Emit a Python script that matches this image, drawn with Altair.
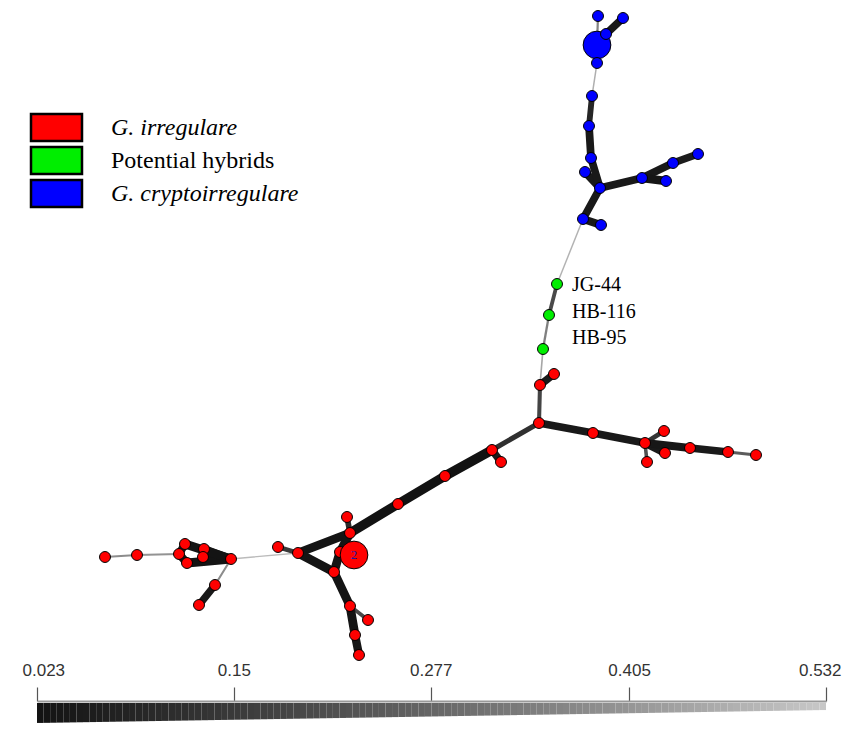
import altair as alt
import pandas as pd
import numpy as np

# ---------------- network layout (node positions) -------------
node_id = ["b0", "b1", "b2", "b3", "b4", "b5", "b6", "b7", "b8", "b9", "b10", "b11", "b12", "b13", "b14", "b15",
           "g0", "g1", "g2",
           "r0", "r1", "r2", "r3", "r4", "r5", "r6", "r7", "r8", "r9", "r10", "r11", "r12", "r13", "r14",
           "r15", "r16", "r17", "r18", "r19", "r20", "r21", "r22", "r23", "r24", "r25", "r26", "r27", "r28",
           "r29", "r30", "r31", "r32", "r33", "r34", "r35"]
node_x = [597, 598, 606, 623, 597, 592, 589, 591, 585, 600, 642, 666, 673, 698, 583, 601,
          557, 549, 543,
          540, 554, 539, 593, 645, 664, 665, 647, 690, 728, 756, 492, 501, 445, 398,
          347, 350, 340, 354, 298, 278, 334, 350, 368, 355, 359, 231, 215, 199,
          185, 204, 179, 203, 187, 137, 105]
node_y = [43, 14, 32, 16, 61, 94, 124, 156, 170, 186, 176, 179, 161, 152, 217, 223,
          282, 313, 347,
          383, 372, 421, 431, 441, 429, 451, 460, 446, 450, 453, 448, 460, 474, 502,
          515, 531, 550, 553, 551, 545, 570, 604, 618, 633, 653, 557, 583, 603,
          542, 547, 552, 555, 561, 553, 555]
node_group = (["G. cryptoirregulare"] * 16 + ["Potential hybrids"] * 3 + ["G. irregulare"] * 36)
node_count = [1] * len(node_id)
node_count[0] = 5   # large blue node
node_count[37] = 2  # large red node

# edges: source, target, genetic distance
edge_src = ["b0", "b0", "b2", "b0", "b4", "b5", "b6", "b7", "b8", "b9", "b10", "b10", "b12", "b9", "b14",
            "b14", "g0", "g1", "g2",
            "r0", "r0", "r2", "r3", "r4", "r4", "r4", "r4", "r8", "r9", "r2", "r11", "r11", "r13", "r14",
            "r15", "r16", "r16", "r17", "r18", "r19", "r21", "r22", "r22", "r24", "r19", "r19",
            "r26", "r27", "r26", "r26", "r26", "r26", "r31", "r31", "r31", "r34"]
edge_dst = ["b1", "b2", "b3", "b4", "b5", "b6", "b7", "b9", "b9", "b10", "b11", "b12", "b13", "b14", "b15",
            "g0", "g1", "g2", "r0",
            "r1", "r2", "r3", "r4", "r5", "r6", "r7", "r8", "r9", "r10", "r11", "r12", "r13", "r14", "r16",
            "r16", "r19", "r17", "r21", "r17", "r21", "r22", "r23", "r24", "r25", "r20", "r26",
            "r27", "r28", "r29", "r30", "r32", "r33", "r29", "r33", "r34", "r35"]
edge_dist = [0.36, 0.045, 0.045, 0.08, 0.47, 0.09, 0.045, 0.045, 0.045, 0.045, 0.035, 0.045, 0.055, 0.045, 0.045,
             0.48, 0.20, 0.35, 0.45,
             0.05, 0.18, 0.045, 0.045, 0.14, 0.045, 0.22, 0.04, 0.05, 0.25, 0.12, 0.05, 0.023, 0.023, 0.023,
             0.10, 0.03, 0.03, 0.03, 0.04, 0.03, 0.03, 0.20, 0.03, 0.035, 0.15, 0.50,
             0.38, 0.05, 0.03, 0.04, 0.04, 0.03, 0.04, 0.04, 0.40, 0.38]

hybrid_labels = ["JG-44", "HB-116", "HB-95"]
hybrid_label_x = [572, 572, 572]
hybrid_label_y = [283, 310, 336]

legend_names = ["G. irregulare", "Potential hybrids", "G. cryptoirregulare"]
legend_colors = ["#ff0000", "#00ee00", "#0000ff"]
legend_italic = ["italic", "normal", "italic"]

colorbar_ticks = [0.023, 0.15, 0.277, 0.405, 0.532]
gray_range = ["#121212", "#c8c8c8"]

# ---------------- tables ----------------
nodes = pd.DataFrame({"id": node_id, "x": node_x, "y": node_y, "group": node_group, "n": node_count})
nodes["size"] = np.where(nodes["n"] > 1, 770, 120)
pos = nodes.set_index("id")
edges = pd.DataFrame({"s": edge_src, "t": edge_dst, "dist": edge_dist})
edges["x"] = edges["s"].map(pos["x"])
edges["y"] = edges["s"].map(pos["y"])
edges["x2"] = edges["t"].map(pos["x"])
edges["y2"] = edges["t"].map(pos["y"])
edges = edges.sort_values("dist", ascending=False)

W1, H1 = 834, 640
X = alt.Scale(domain=[8, 8 + W1])
Y = alt.Scale(domain=[8, 8 + H1], reverse=True)
dist_dom = [colorbar_ticks[0], colorbar_ticks[-1]]
fill_scale = alt.Scale(domain=legend_names, range=legend_colors)

edge_layer = alt.Chart(edges).mark_rule(strokeCap="round").encode(
    x=alt.X("x:Q", scale=X, axis=None),
    y=alt.Y("y:Q", scale=Y, axis=None),
    x2="x2:Q", y2="y2:Q",
    stroke=alt.Stroke("dist:Q", scale=alt.Scale(domain=dist_dom, range=gray_range), legend=None),
    strokeWidth=alt.StrokeWidth("dist:Q", scale=alt.Scale(type="log", domain=dist_dom, range=[9.5, 1.2]),
                                legend=None),
)

node_layer = alt.Chart(nodes).mark_circle(stroke="black", strokeWidth=1, opacity=1).encode(
    x=alt.X("x:Q", scale=X, axis=None),
    y=alt.Y("y:Q", scale=Y, axis=None),
    fill=alt.Fill("group:N", scale=fill_scale, legend=None),
    size=alt.Size("size:Q", scale=None),
)

big_red = nodes[nodes["n"] == 2]
count_layer = alt.Chart(big_red).mark_text(font="Liberation Serif", fontSize=13, color="#1a1aa0",
                                           align="center", baseline="middle").encode(
    x=alt.X("x:Q", scale=X, axis=None), y=alt.Y("y:Q", scale=Y, axis=None), text="n:N")

hyb = pd.DataFrame({"label": hybrid_labels, "x": hybrid_label_x, "y": hybrid_label_y})
hyb_layer = alt.Chart(hyb).mark_text(font="Liberation Serif", fontSize=20, color="black",
                                     align="left", baseline="middle").encode(
    x=alt.X("x:Q", scale=X, axis=None), y=alt.Y("y:Q", scale=Y, axis=None), text="label:N")

leg = pd.DataFrame({"name": legend_names, "style": legend_italic, "row": [0, 1, 2]})
leg["x"] = 31
leg["x2"] = 82
leg["y"] = 112 + leg["row"] * 33
leg["y2"] = leg["y"] + 27
leg["ty"] = leg["y"] + 14
leg["tx"] = 111
leg_box = alt.Chart(leg).mark_rect(stroke="black", strokeWidth=2.5).encode(
    x=alt.X("x:Q", scale=X, axis=None), x2="x2:Q",
    y=alt.Y("y:Q", scale=Y, axis=None), y2="y2:Q",
    fill=alt.Fill("name:N", scale=fill_scale, legend=None))
leg_it = alt.Chart(leg[leg["style"] == "italic"]).mark_text(
    font="Liberation Serif", fontSize=24, fontStyle="italic", align="left", baseline="middle", color="black"
).encode(x=alt.X("tx:Q", scale=X, axis=None), y=alt.Y("ty:Q", scale=Y, axis=None), text="name:N")
leg_no = alt.Chart(leg[leg["style"] == "normal"]).mark_text(
    font="Liberation Serif", fontSize=24, align="left", baseline="middle", color="black"
).encode(x=alt.X("tx:Q", scale=X, axis=None), y=alt.Y("ty:Q", scale=Y, axis=None), text="name:N")

network = alt.layer(edge_layer, node_layer, count_layer, hyb_layer, leg_box, leg_it, leg_no).properties(
    width=W1, height=H1)

# ---------------- colour bar ----------------
stops = np.linspace(dist_dom[0], dist_dom[1], 121)
bar = pd.DataFrame({"v0": stops[:-1], "v1": stops[1:]})
bar["vm"] = (bar["v0"] + bar["v1"]) / 2
cb_x = alt.Scale(domain=dist_dom, range=[29, 818])
colorbar = alt.Chart(bar).mark_rect().encode(
    x=alt.X("v0:Q", scale=cb_x,
            axis=alt.Axis(orient="top", values=colorbar_ticks, format=".3~f", title=None, grid=False,
                          tickSize=14, tickColor="#555", tickWidth=1.2, domainColor="#999", domainWidth=2,
                          labelFont="Liberation Sans", labelFontSize=17, labelColor="#333",
                          labelFlush=True, labelFlushOffset=15, labelOverlap=False, labelPadding=8)),
    x2="v1:Q",
    y=alt.Y("vm:Q", scale=alt.Scale(domain=dist_dom, range=[22, 9]), axis=None),
    y2=alt.value(2),
    fill=alt.Fill("vm:Q", scale=alt.Scale(domain=dist_dom, range=gray_range), legend=None),
).properties(width=W1, height=22)

chart = alt.vconcat(network, colorbar, spacing=51, bounds="flush").resolve_scale(
    x="independent", y="independent", fill="independent").properties(
    padding=0, background="white").configure_view(stroke=None)

chart.save("out.html", embed_options={"renderer": "svg", "actions": False})
